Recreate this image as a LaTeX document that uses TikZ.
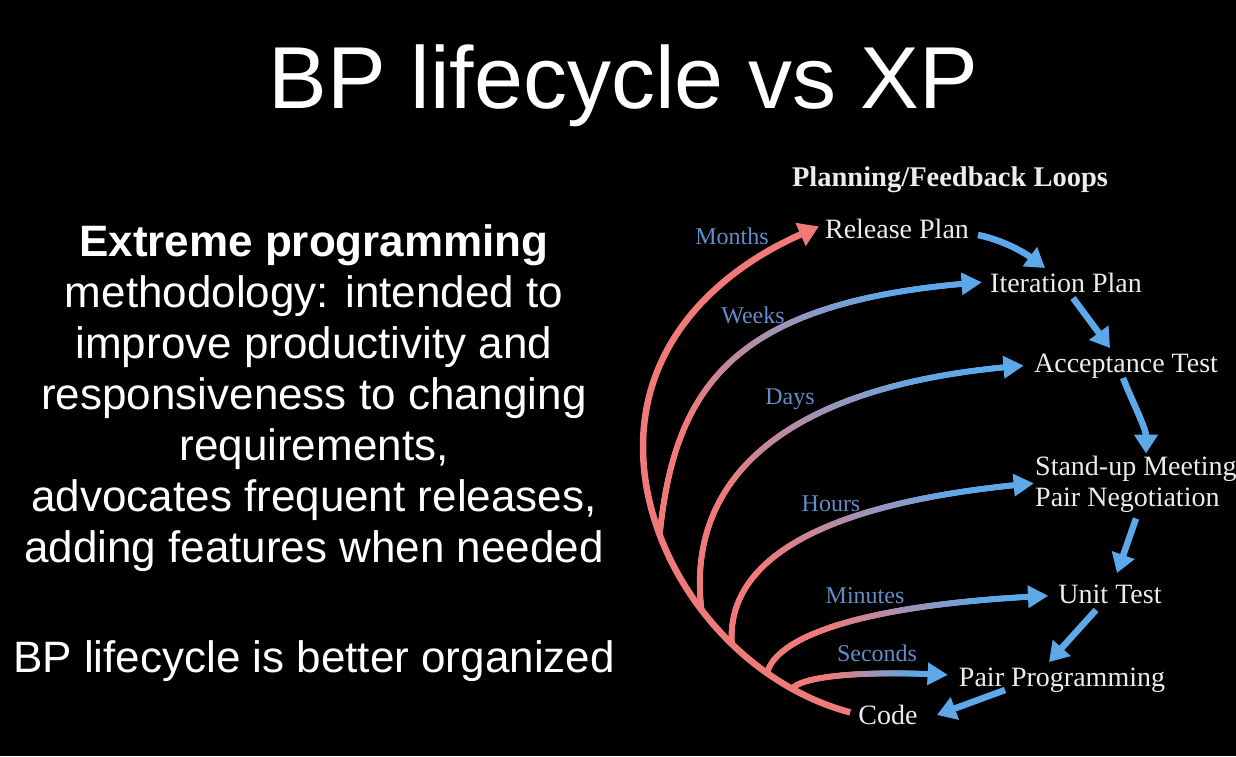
\documentclass[tikz,border=0pt]{standalone}
\usepackage{fontspec}
\setmainfont{Liberation Serif}
\newfontfamily\slidesans{Liberation Sans}
\usetikzlibrary{arrows.meta,calc,decorations.markings}

\definecolor{loopred}{RGB}{240,122,122}
\definecolor{loopblue}{RGB}{92,168,232}
\definecolor{labelblue}{RGB}{100,140,200}
\definecolor{stagetext}{RGB}{236,236,236}

\begin{document}
\begin{tikzpicture}[x=1pt,y=-1pt,
  stage/.style={text=stagetext, inner sep=0pt, anchor=base,
    font=\fontsize{28}{31}\selectfont},
  period/.style={text=labelblue, inner sep=0pt, anchor=base,
    font=\fontsize{24}{26}\selectfont},
  bodyline/.style={text=white, inner sep=0pt, anchor=base,
    font=\slidesans\fontsize{44}{51}\selectfont},
  trunk/.style={draw=loopred, line width=6.5pt,
    -{Triangle[length=20pt,width=24pt]}},
  chain/.style={draw=loopblue, line width=6.5pt,
    -{Triangle[length=19pt,width=23pt]}},
  % red-to-blue loop drawn as a dense row of dots, then a blue head
  loop/.style={
    postaction={decorate, decoration={markings,
      mark=between positions 0 and -14pt step 0.8pt with {
        \pgfmathsetmacro\loopmix{min(100,max(0,
          (\pgfkeysvalueof{/pgf/decoration/mark info/distance from start}
           /\pgfdecoratedpathlength-0.25)/0.55*100))}
        \fill[loopblue!\loopmix!loopred] (0,0) circle (3pt);
      }}},
    postaction={decorate, decoration={markings,
      mark=at position 0.999 with {
        \fill[loopblue] (2pt,0) -- (-18pt,11.5pt) -- (-18pt,-11.5pt) -- cycle;
      }}}}
]
\useasboundingbox (0,0) rectangle (1236,756);
\fill[black] (0,0) rectangle (1236,756);

% title
\node[text=white, inner sep=0pt, anchor=base,
  font=\slidesans\fontsize{88}{90}\selectfont] (title) at (623.5,108)
  {BP lifecycle vs XP};

% left text block
\node[bodyline, font=\slidesans\bfseries\fontsize{44}{51}\selectfont]
  (b1) at (314,256) {Extreme programming};
\node[bodyline] (b2) at (314,307) {methodology: intended to};
\node[bodyline] (b3) at (314,358) {improve productivity and};
\node[bodyline] (b4) at (314,409) {responsiveness to changing};
\node[bodyline] (b5) at (314,460) {requirements,};
\node[bodyline] (b6) at (314,511) {advocates frequent releases,};
\node[bodyline] (b7) at (314,562) {adding features when needed};
\node[bodyline] (b8) at (314,672) {BP lifecycle is better organized};

% diagram heading
\node[text=stagetext, inner sep=0pt, anchor=base,
  font=\bfseries\fontsize{28.5}{30}\selectfont] (head) at (950,186)
  {Planning/Feedback Loops};

% stages
\node[stage] (rel)  at (897,238)  {Release Plan};
\node[stage] (iter) at (1066,292) {Iteration Plan};
\node[stage] (acc)  at (1126,372) {Acceptance Test};
\node[stage, anchor=west, align=left] (su) at (1035,484.5)
  {Stand-up Meeting\\Pair Negotiation};
\node[stage] (unit) at (1110,603) {Unit Test};
\node[stage] (pp)   at (1062,686) {Pair Programming};
\node[stage] (code) at (888,724)  {Code};

% time-scale labels
\node[period] (months)  at (732,244) {Months};
\node[period] (weeks)   at (753,323) {Weeks};
\node[period] (days)    at (790,404) {Days};
\node[period] (hours)   at (831,511) {Hours};
\node[period] (minutes) at (865,603) {Minutes};
\node[period] (seconds) at (877,661) {Seconds};

% main red loop from Code back to Release Plan
\coordinate (tstart) at ($(code.west)+(-8,-2)$);
\coordinate (bend) at (643,447);
\path (tstart) .. controls (730,680) and (643,560) .. (bend)
  coordinate[pos=0.17] (jsec)
  coordinate[pos=0.25] (jmin)
  coordinate[pos=0.375] (jhour)
  coordinate[pos=0.5] (jday)
  coordinate[pos=0.74] (jweek);
\draw[trunk] (tstart) .. controls (730,680) and (643,560) .. (bend)
  .. controls (643,340) and (720,270) .. ($(rel.west)+(-6,-2)$);

% shorter loops branching off the main loop
\path[loop] (jweek) .. controls (675,380) and (740,300) .. ($(iter.west)+(-10,0)$);
\path[loop] (jday)  .. controls (686,485) and (775,385) .. ($(acc.west)+(-12,0)$);
\path[loop] (jhour) .. controls (727,575) and (790,505) .. ($(su.west)+(-3,-1)$);
\path[loop] (jmin)  .. controls (775,640) and (850,605) .. ($(unit.west)+(-12,2)$);
\path[loop] (jsec)  .. controls (800,678) and (850,670) .. ($(pp.west)+(-13,-5)$);

% blue chain from stage to stage
\draw[chain] ($(rel.base)+(81,-3)$) .. controls +(25,5) and +(-20,-15) .. ($(iter.base)+(-21,-24)$);
\draw[chain] ($(iter.base)+(7,6)$) -- ($(acc.base)+(-16,-24)$);
\draw[chain] ($(acc.base)+(-3,6)$) .. controls +(10,25) and +(0,-25) .. ($(su.west)+(111,-31)$);
\draw[chain] ($(su.west)+(101,34)$) -- ($(unit.base)+(7,-30)$);
\draw[chain] ($(unit.base)+(-14,7)$) -- ($(pp.base)+(-13,-24)$);
\draw[chain] ($(pp.base)+(-57,4)$) -- ($(code.base)+(49,-9)$);
\end{tikzpicture}
\end{document}
